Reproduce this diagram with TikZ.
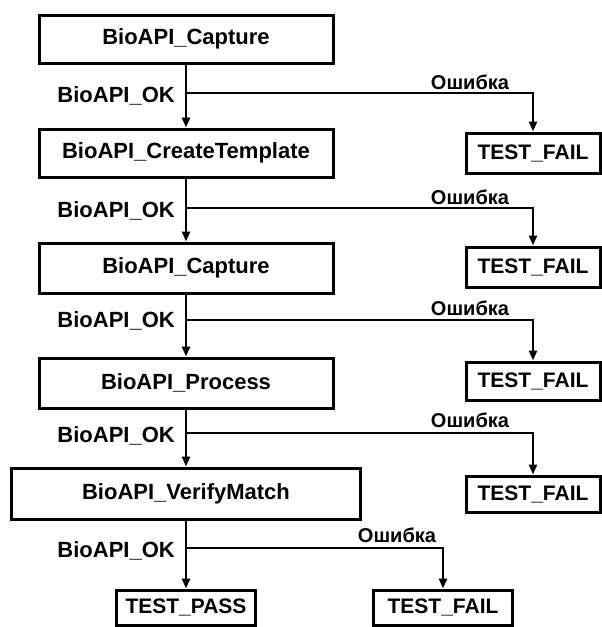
\documentclass[tikz,border=0pt]{standalone}
\usepackage{fontspec}
\setmainfont{Liberation Sans}
\usetikzlibrary{positioning,arrows.meta}

\begin{document}
\begin{tikzpicture}[x=1pt,y=-1pt,
    stepbox/.style={draw,line width=3pt,minimum width=294pt,minimum height=48pt,inner sep=0pt,font=\bfseries\fontsize{22}{25}\selectfont},
    failbox/.style={draw,line width=3pt,minimum width=134pt,minimum height=40pt,inner sep=0pt,font=\bfseries\fontsize{21}{24}\selectfont},
    oklabel/.style={inner sep=0pt,font=\bfseries\fontsize{22}{25}\selectfont},
    errlabel/.style={inner sep=0pt,font=\bfseries\fontsize{20}{23}\selectfont},
    conn/.style={line width=2.8pt,-{Triangle[length=10pt,width=8pt]}}]
    \useasboundingbox (0,0) rectangle (602,627);

    % Main sequence
    \node[stepbox] (cap1) at (186,39) {BioAPI\_Capture};
    \node[stepbox] (create) at (186,153) {BioAPI\_CreateTemplate};
    \node[stepbox,minimum height=50pt] (cap2) at (186,268) {BioAPI\_Capture};
    \node[stepbox,minimum height=50pt] (proc) at (186,383) {BioAPI\_Process};
    \node[stepbox,minimum width=349pt,minimum height=51pt] (verify) at (186,493.5) {BioAPI\_VerifyMatch};
    \node[failbox,minimum width=139pt,minimum height=35pt] (pass) at (186,607.5) {TEST\_PASS};

    % Failure results
    \node[failbox] (fail1) at (533,153) {TEST\_FAIL};
    \node[failbox] (fail2) at (533,267) {TEST\_FAIL};
    \node[failbox,minimum height=38pt] (fail3) at (533,381) {TEST\_FAIL};
    \node[failbox,minimum height=36pt] (fail4) at (533,494) {TEST\_FAIL};
    \node[failbox,minimum width=139pt,minimum height=35pt] (fail5) at (443,607.5) {TEST\_FAIL};

    % Branch points
    \coordinate (ok1) at (186,93);
    \coordinate (ok2) at (186,208);
    \coordinate (ok3) at (186,320);
    \coordinate (ok4) at (186,433);
    \coordinate (ok5) at (186,548);

    % Arrows
    \draw[conn] (cap1) -- (create);
    \draw[conn] (create) -- (cap2);
    \draw[conn] (cap2) -- (proc);
    \draw[conn] (proc) -- (verify);
    \draw[conn] (verify) -- (pass);
    \draw[conn] (ok1) -| (fail1);
    \draw[conn] (ok2) -| (fail2);
    \draw[conn] (ok3) -| (fail3);
    \draw[conn] (ok4) -| (fail4);
    \draw[conn] (ok5) -| (fail5);

    % Labels
    \node[oklabel,left=11pt of ok1,yshift=-3pt] (oktxt1) {BioAPI\_OK};
    \node[oklabel,left=11pt of ok2,yshift=-3pt] (oktxt2) {BioAPI\_OK};
    \node[oklabel,left=11pt of ok3,yshift=-1pt] (oktxt3) {BioAPI\_OK};
    \node[oklabel,left=11pt of ok4,yshift=-3pt] (oktxt4) {BioAPI\_OK};
    \node[oklabel,left=11pt of ok5,yshift=-3pt] (oktxt5) {BioAPI\_OK};
    \node[errlabel] (err1) at (470,82) {Ошибка};
    \node[errlabel] (err2) at (470,197) {Ошибка};
    \node[errlabel] (err3) at (470,308) {Ошибка};
    \node[errlabel] (err4) at (470,420) {Ошибка};
    \node[errlabel] (err5) at (397,535) {Ошибка};
\end{tikzpicture}
\end{document}
